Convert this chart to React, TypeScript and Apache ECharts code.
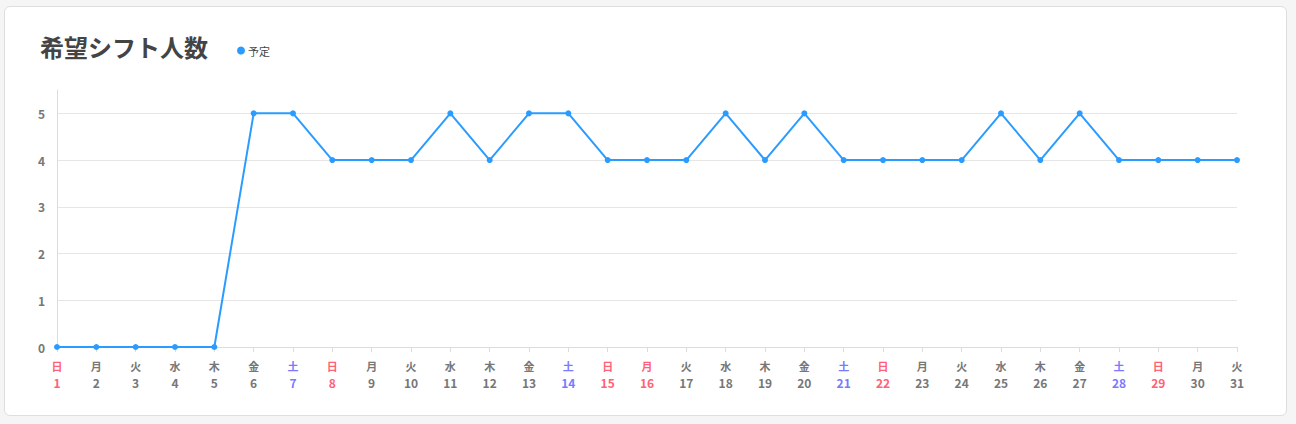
import React, { useEffect, useRef } from "react";
import * as echarts from "echarts";

const days = Array.from({ length: 31 }, (_, i) => String(i + 1));
const weekdays = [
  "日", "月", "火", "水", "木", "金", "土",
  "日", "月", "火", "水", "木", "金", "土",
  "日", "月", "火", "水", "木", "金", "土",
  "日", "月", "火", "水", "木", "金", "土",
  "日", "月", "火",
];
const holidays = ["16"];
const planned = [0, 0, 0, 0, 0, 5, 5, 4, 4, 4, 5, 4, 5, 5, 4, 4, 4, 5, 4, 5, 4, 4, 4, 4, 5, 4, 5, 4, 4, 4, 4];
const yTicks = [0, 1, 2, 3, 4, 5];

const FONT = '"Noto Sans CJK JP", "Noto Sans", sans-serif';

export default function App() {
  const ref = useRef<HTMLDivElement>(null);
  useEffect(() => {
    if (!ref.current) return;
    const chart = echarts.init(ref.current, undefined, { renderer: "svg" });
    chart.setOption({
      animation: false,
      textStyle: { fontFamily: FONT },
      title: {
        text: "希望シフト人数",
        left: 30,
        top: 22,
        textStyle: { fontSize: 24, fontWeight: "bold", color: "#444", fontFamily: FONT },
      },
      legend: {
        left: 227,
        top: 33,
        icon: "circle",
        itemWidth: 8,
        itemHeight: 8,
        itemGap: 10,
        textStyle: { fontSize: 11, color: "#444", fontFamily: FONT, padding: [0, 0, 0, -2] },
        data: ["予定"],
      },
      grid: { left: 52, right: 49, top: 83, bottom: 68, containLabel: false },
      xAxis: {
        type: "category",
        boundaryGap: false,
        data: days,
        axisLine: { lineStyle: { color: "#dddddd" } },
        axisTick: { show: true, alignWithLabel: true, length: 5, lineStyle: { color: "#dddddd" } },
        axisLabel: {
          interval: 0,
          margin: 11,
          formatter: (v: string, i: number) => {
            const wd = weekdays[i];
            let k = "n";
            if (wd === "日" || holidays.includes(v)) k = "r";
            else if (wd === "土") k = "b";
            return `{${k}w|${wd}}\n{${k}|${v}}`;
          },
          rich: {
            nw: { color: "#777", fontSize: 11, fontWeight: "bold", lineHeight: 16, fontFamily: FONT },
            n: { color: "#777", fontSize: 12, fontWeight: "bold", lineHeight: 17, fontFamily: FONT },
            rw: { color: "#ff6176", fontSize: 11, fontWeight: "bold", lineHeight: 16, fontFamily: FONT },
            r: { color: "#ff6176", fontSize: 12, fontWeight: "bold", lineHeight: 17, fontFamily: FONT },
            bw: { color: "#7a7aff", fontSize: 11, fontWeight: "bold", lineHeight: 16, fontFamily: FONT },
            b: { color: "#7a7aff", fontSize: 12, fontWeight: "bold", lineHeight: 17, fontFamily: FONT },
          },
        },
        splitLine: { show: false },
      },
      yAxis: {
        type: "value",
        min: yTicks[0],
        max: 5.5,
        interval: 1,
        axisLine: { show: true, lineStyle: { color: "#dddddd" } },
        axisTick: { show: false },
        axisLabel: {
          showMaxLabel: false,
          margin: 12,
          color: "#777",
          fontSize: 12,
          fontWeight: "bold",
          fontFamily: FONT,
          formatter: (v: number) => (yTicks.includes(v) ? String(v) : ""),
        },
        splitLine: { show: true, showMaxLine: false, lineStyle: { color: "#e6e6e6" } },
      },
      series: [
        {
          name: "予定",
          type: "line",
          data: planned,
          color: "#2b9cff",
          symbol: "circle",
          symbolSize: 6,
          lineStyle: { width: 2, color: "#2b9cff" },
          itemStyle: { color: "#2b9cff" },
        },
      ],
    });
    return () => chart.dispose();
  }, []);

  return (
    <div style={{ position: "absolute", left: 0, top: 0, width: 1296, height: 424, background: "#f5f5f5" }}>
      <div
        style={{
          position: "absolute",
          left: 4,
          top: 6,
          width: 1283,
          height: 410,
          boxSizing: "border-box",
          background: "#fff",
          border: "1px solid #dedede",
          borderRadius: 6,
        }}
      >
        <div ref={ref} style={{ width: 1281, height: 408 }} />
      </div>
    </div>
  );
}
